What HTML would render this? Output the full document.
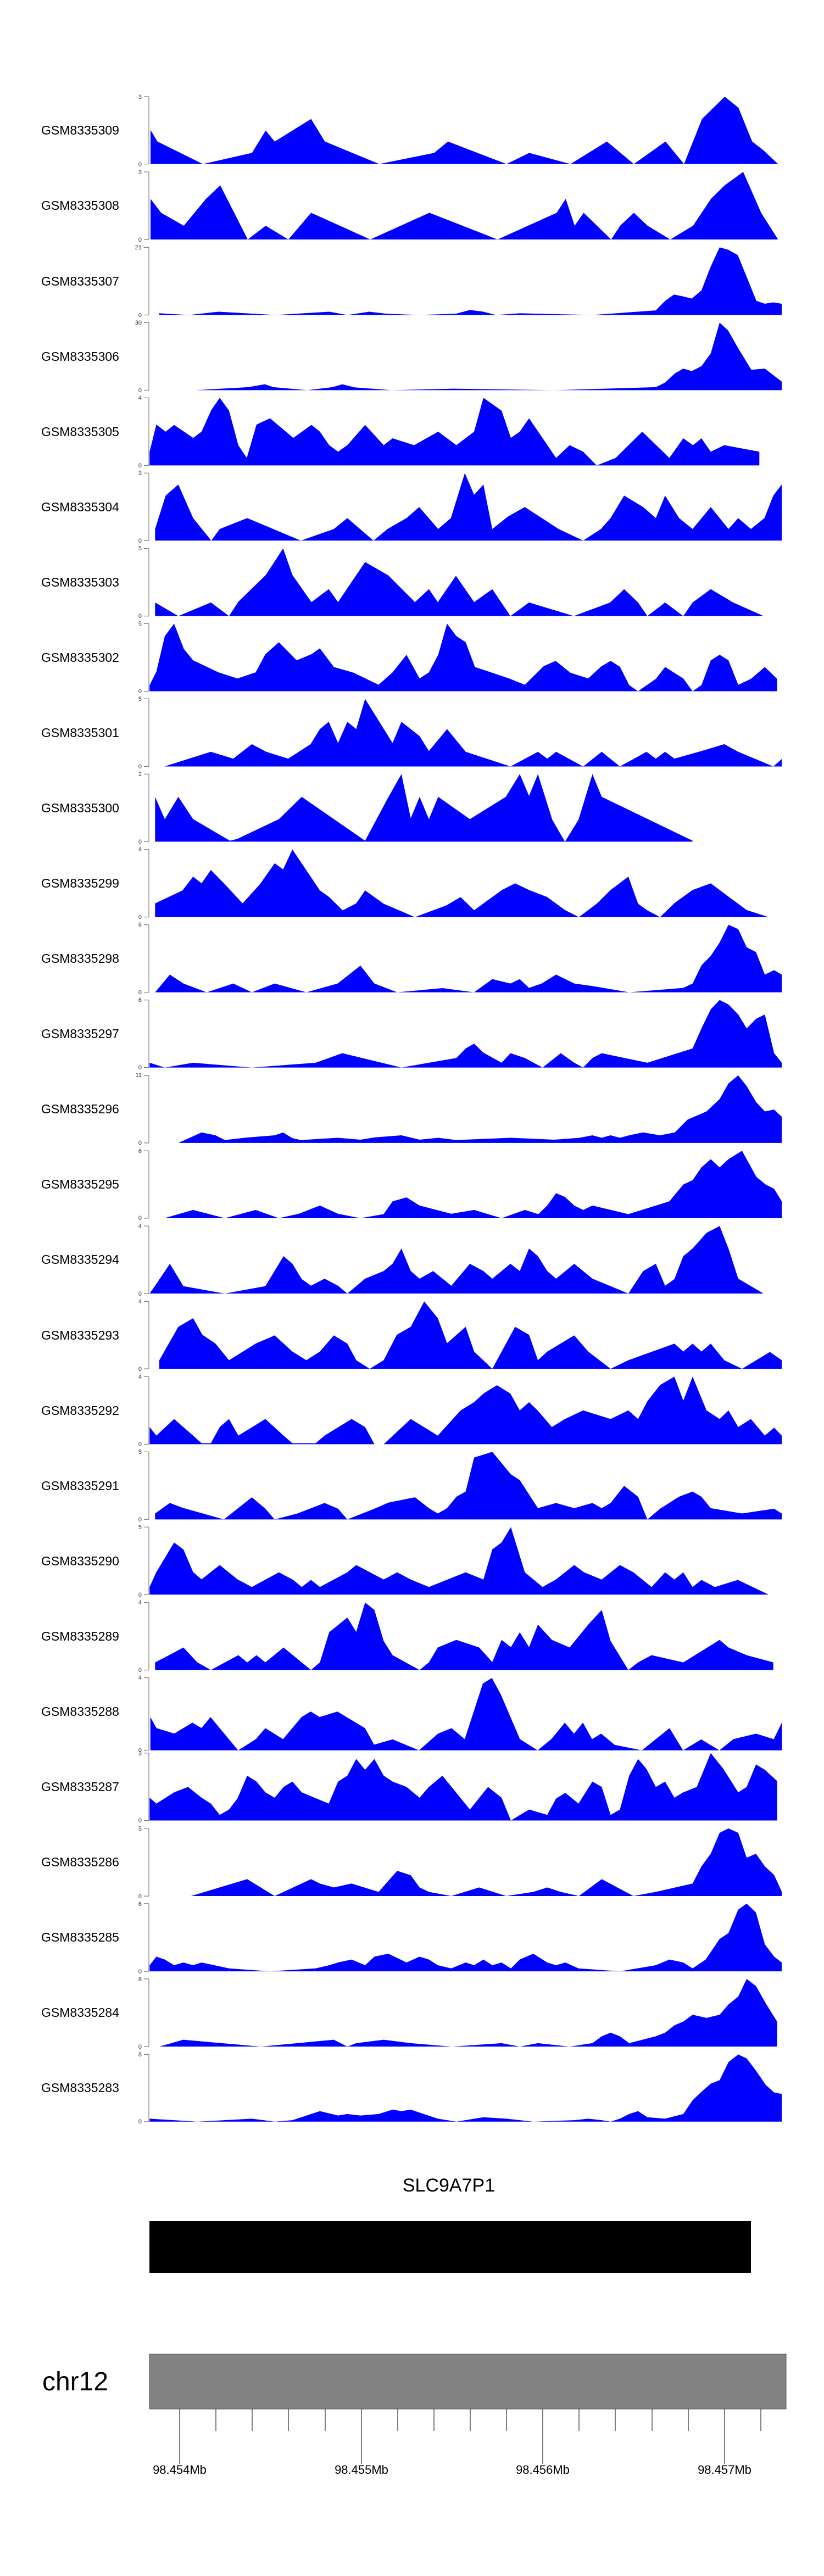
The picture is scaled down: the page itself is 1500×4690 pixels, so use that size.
<!DOCTYPE html>
<html><head><meta charset="utf-8"><style>
html,body{margin:0;padding:0;background:#fff;}
svg{display:block;}
text{font-family:"Liberation Sans",sans-serif;}
</style></head><body>
<svg width="1500" height="4690" viewBox="0 0 1500 4690" xmlns="http://www.w3.org/2000/svg">
<rect width="1500" height="4690" fill="#fff"/>
<g fill="#0000ff" stroke="none">
<g transform="translate(0,150) scale(0.96154,0.33333)">
<polygon points="285,446 285,260 298,323 384,446 477,385 503,263 520,323 589,200 615,323 718,446 822,385 848,323 959,446 1002,385 1080,446 1149,323 1200,446 1260,323 1295,446 1329,200 1372,78 1398,138 1424,323 1445,370 1473,446"/>
<polygon points="285,858 285,636 305,712 348,783 390,636 417,562 469,858 503,783 546,858 589,712 701,858 813,712 942,858 1054,712 1071,636 1088,783 1105,712 1157,858 1174,783 1200,712 1226,783 1269,858 1312,783 1346,636 1372,562 1407,489 1441,712 1473,858"/>
</g>
<g transform="translate(240,440) scale(0.76923,0.34757)">
<polygon points="65,384 65,375 135,384 205,367 340,384 467,367 510,384 562,367 600,377 680,384 768,377 800,358 830,366 862,384 918,375 1090,384 1240,360 1262,310 1283,277 1305,287 1325,298 1348,255 1370,130 1391,30 1411,42 1434,70 1478,310 1498,325 1518,318 1538,325 1538,384"/>
<polygon points="150,778 275,762 315,747 335,762 415,778 475,762 498,747 527,763 615,778 760,770 1000,778 1240,762 1262,738 1285,690 1305,665 1325,678 1348,652 1370,585 1391,424 1411,465 1434,555 1466,671 1498,665 1538,733 1538,778"/>
<polygon points="42,1172 42,1100 58,958 80,995 100,960 145,1028 165,995 188,882 208,818 230,885 252,1066 272,1133 295,958 327,925 382,1028 425,960 445,995 467,1066 488,1100 510,1066 552,960 596,1066 617,1030 668,1066 725,995 768,1066 810,995 832,818 875,885 897,1028 918,995 940,925 1004,1133 1036,1066 1068,1100 1100,1172 1145,1133 1208,995 1272,1133 1305,1030 1328,1066 1348,1030 1370,1100 1402,1066 1485,1100 1485,1172"/>
<polygon points="55,1566 55,1505 80,1330 110,1272 145,1448 188,1566 208,1505 273,1448 400,1566 478,1505 510,1448 572,1566 605,1505 650,1448 680,1390 725,1505 755,1448 788,1212 810,1326 832,1272 853,1505 890,1440 930,1390 1010,1505 1068,1566 1110,1505 1133,1448 1165,1330 1210,1390 1240,1448 1262,1330 1295,1448 1327,1505 1370,1390 1412,1505 1435,1448 1465,1505 1497,1448 1518,1330 1538,1272 1538,1566"/>
</g>
<g transform="translate(240,985) scale(0.76923,0.34757)">
<polygon points="55,393 55,322 110,393 187,322 230,393 252,318 317,178 358,39 380,178 425,320 466,252 488,320 552,110 607,180 670,320 703,252 724,320 767,182 810,320 853,252 896,393 940,322 1046,393 1132,322 1165,252 1198,322 1220,393 1262,322 1305,393 1327,322 1370,252 1423,322 1495,393"/>
<polygon points="42,787 42,755 58,685 78,498 100,433 123,565 145,625 205,688 250,720 293,688 316,593 348,530 390,625 425,593 445,562 478,660 525,690 584,753 617,688 650,596 681,720 703,688 725,596 746,433 768,498 790,530 812,660 893,720 930,753 975,655 1003,628 1038,690 1080,720 1110,658 1133,628 1155,658 1177,755 1198,787 1240,722 1262,660 1305,720 1327,787 1348,755 1370,625 1391,596 1412,625 1435,753 1465,722 1498,660 1527,722 1527,787"/>
<polygon points="77,1181 187,1104 240,1140 284,1064 318,1104 370,1140 423,1064 445,985 466,947 488,1058 510,947 531,985 552,827 617,1058 638,947 681,1022 703,1100 746,985 790,1104 896,1181 961,1104 983,1140 1004,1104 1068,1181 1112,1104 1155,1181 1218,1104 1240,1140 1262,1104 1284,1140 1348,1100 1402,1064 1435,1104 1518,1181 1538,1142 1538,1181"/>
<polygon points="55,1575 55,1340 78,1457 110,1340 145,1457 232,1570 250,1560 348,1457 402,1340 552,1570 605,1350 638,1221 660,1452 681,1340 703,1457 725,1340 800,1457 885,1340 918,1221 940,1335 961,1221 995,1460 1025,1575 1057,1460 1090,1221 1112,1340 1327,1570 1327,1575"/>
</g>
<g transform="translate(240,1530) scale(0.76923,0.34757)">
<polygon points="55,402 55,330 120,262 145,190 165,225 187,155 218,225 262,330 303,230 338,120 358,152 380,48 445,262 467,297 499,367 531,330 552,262 596,332 670,402 745,340 778,297 810,366 876,260 907,225 940,260 983,297 1025,365 1058,402 1100,332 1133,260 1175,190 1198,332 1220,367 1250,402 1285,327 1327,260 1370,225 1412,295 1455,365 1507,402"/>
<polygon points="55,796 90,703 122,750 177,796 240,750 284,796 338,750 413,796 487,750 541,656 574,750 628,796 735,774 810,796 853,727 896,750 918,727 940,773 970,750 1004,703 1047,750 1090,763 1177,796 1305,773 1327,750 1348,655 1370,605 1391,535 1412,442 1435,465 1455,560 1477,585 1498,703 1520,680 1538,703 1538,796"/>
<polygon points="42,1190 42,1165 78,1190 145,1165 284,1190 435,1165 498,1115 638,1190 768,1140 790,1090 810,1065 832,1112 875,1165 896,1115 930,1140 972,1190 1015,1115 1047,1165 1068,1190 1090,1140 1112,1115 1220,1165 1327,1090 1348,985 1370,885 1391,836 1412,860 1435,912 1455,985 1477,935 1498,912 1520,1115 1538,1165 1538,1190"/>
<polygon points="42,1585 110,1585 165,1530 198,1545 220,1570 275,1556 338,1545 358,1530 380,1560 400,1570 487,1558 541,1568 574,1556 638,1545 681,1568 725,1558 768,1570 896,1558 1000,1568 1060,1558 1090,1545 1112,1558 1133,1545 1155,1558 1177,1545 1210,1530 1250,1545 1285,1530 1315,1463 1360,1420 1391,1355 1412,1273 1435,1231 1455,1287 1477,1370 1498,1420 1520,1410 1538,1448 1538,1585"/>
</g>
<g transform="translate(240,2075) scale(0.76923,0.34757)">
<polygon points="77,411 145,368 220,411 293,368 348,411 395,388 445,345 488,388 541,411 596,390 617,323 650,302 681,345 756,388 810,368 875,411 930,368 962,390 983,345 1004,280 1025,300 1047,345 1068,368 1090,345 1175,390 1272,323 1305,235 1327,212 1348,145 1370,102 1391,145 1412,102 1444,58 1478,195 1500,235 1520,257 1538,323 1538,411"/>
<polygon points="42,806 55,765 90,650 122,767 220,806 316,767 359,610 380,650 402,730 424,765 456,728 488,765 510,806 552,728 596,688 617,650 638,570 660,688 681,728 713,688 756,765 800,650 832,688 853,728 896,650 918,688 940,570 961,610 983,688 1004,728 1047,650 1090,728 1175,806 1210,688 1240,650 1262,765 1284,730 1305,610 1327,570 1360,488 1391,452 1412,570 1435,728 1495,806"/>
<polygon points="65,1200 65,1155 110,980 145,935 167,1022 198,1068 230,1155 293,1068 338,1025 380,1110 413,1155 445,1110 478,1025 510,1068 531,1155 563,1200 596,1155 627,1022 660,980 692,847 724,935 746,1066 790,980 810,1110 853,1200 907,980 940,1022 961,1155 983,1110 1047,1025 1080,1110 1133,1200 1175,1155 1284,1068 1305,1110 1327,1068 1348,1110 1370,1068 1402,1155 1444,1200 1510,1112 1538,1155 1538,1200"/>
<polygon points="42,1595 42,1505 58,1550 100,1463 145,1550 165,1590 187,1590 208,1505 230,1463 252,1550 316,1463 359,1550 380,1590 435,1590 456,1550 520,1463 552,1505 574,1595 596,1595 660,1463 724,1550 778,1418 810,1375 832,1330 864,1286 896,1330 918,1418 940,1375 961,1420 994,1505 1025,1463 1068,1418 1133,1463 1175,1418 1198,1463 1220,1370 1250,1285 1284,1241 1305,1367 1327,1241 1360,1418 1391,1463 1412,1418 1435,1505 1465,1463 1498,1550 1520,1508 1538,1550 1538,1595"/>
</g>
<g transform="translate(240,2620) scale(0.76923,0.34757)">
<polygon points="55,421 55,390 90,335 120,360 218,421 284,305 316,365 338,421 392,390 456,335 488,365 510,421 574,365 607,333 670,305 703,362 724,390 746,362 768,302 790,275 810,97 853,67 897,185 918,215 961,362 1004,335 1047,362 1090,335 1112,362 1133,335 1165,245 1198,302 1220,421 1250,365 1295,302 1327,275 1348,302 1370,362 1444,390 1520,365 1538,390 1538,421"/>
<polygon points="42,815 42,775 58,697 100,542 122,578 145,697 165,735 208,660 250,735 284,775 348,698 382,738 402,775 424,738 445,775 510,698 531,660 596,736 628,698 660,736 703,775 790,698 832,736 853,578 875,542 897,461 930,698 972,775 1004,735 1047,660 1070,698 1112,736 1155,660 1187,698 1230,775 1262,698 1284,736 1305,698 1327,775 1348,738 1380,775 1434,738 1507,815"/>
<polygon points="55,1210 55,1170 90,1130 122,1092 155,1170 187,1210 252,1132 273,1170 295,1132 316,1170 359,1092 424,1210 445,1170 467,1012 510,935 531,1010 552,856 574,895 596,1058 617,1132 681,1210 703,1170 724,1092 768,1052 822,1092 853,1168 875,1052 897,1090 918,1012 940,1090 961,972 994,1052 1036,1092 1080,972 1112,895 1133,1058 1175,1210 1198,1170 1230,1132 1305,1170 1391,1052 1412,1092 1455,1132 1518,1170 1518,1210"/>
</g>
<g transform="translate(270,3050) scale(0.75,0.35714)">
<polygon points="5,383 5,213 20,270 63,297 107,242 129,269 151,213 218,383 261,326 284,270 327,326 372,213 394,185 416,213 459,185 526,270 548,354 593,327 657,383 703,298 736,270 768,326 812,42 834,14 856,100 902,326 945,383 978,326 1011,242 1033,298 1055,242 1077,326 1099,298 1132,355 1198,383 1265,270 1298,383 1342,327 1386,383 1420,326 1475,298 1518,326 1538,240 1538,383"/>
</g>
<g transform="translate(240,3165) scale(0.76923,0.44643)">
<polygon points="42,335 42,242 58,266 100,220 133,198 165,242 187,266 208,312 230,290 250,245 273,152 295,176 316,220 338,242 359,198 380,176 402,220 466,266 488,176 510,152 531,84 552,128 574,84 596,152 617,176 650,198 681,242 703,198 735,152 800,290 843,198 875,242 897,335 940,290 983,312 1004,245 1026,222 1057,266 1090,176 1112,198 1133,312 1155,290 1177,152 1198,84 1218,125 1240,198 1262,176 1284,242 1305,220 1337,198 1370,60 1400,125 1435,220 1455,198 1477,106 1498,128 1527,174 1527,335"/>
<polygon points="140,643 273,574 338,643 424,574 445,592 478,608 520,592 584,626 628,540 660,558 681,608 703,626 756,643 822,608 886,643 950,626 983,608 1015,626 1058,643 1112,574 1187,643 1240,626 1327,592 1348,522 1370,470 1391,385 1412,367 1435,385 1455,487 1477,470 1498,522 1520,557 1538,625 1538,643"/>
<polygon points="42,950 42,925 58,890 78,902 100,925 122,914 145,925 165,914 230,938 327,950 435,938 467,925 488,914 520,902 552,925 574,890 607,878 650,914 681,890 703,902 724,925 756,938 790,914 810,925 832,902 853,925 875,914 897,938 918,902 950,878 983,914 1004,925 1026,914 1057,938 1155,950 1240,925 1272,902 1305,914 1327,938 1358,902 1391,818 1412,794 1435,698 1455,674 1477,710 1498,840 1520,890 1538,914 1538,950"/>
<polygon points="65,1257 122,1229 305,1257 478,1229 510,1257 531,1243 596,1229 660,1243 758,1257 875,1243 918,1257 961,1243 1036,1257 1090,1243 1112,1215 1133,1200 1155,1215 1177,1243 1240,1215 1262,1200 1284,1170 1305,1155 1327,1127 1360,1140 1391,1127 1412,1085 1435,1053 1455,981 1477,1010 1500,1080 1527,1155 1527,1257"/>
<polygon points="42,1563 42,1551 100,1557 155,1563 284,1551 338,1563 380,1557 445,1520 488,1538 510,1532 541,1538 584,1532 617,1514 638,1520 660,1514 724,1551 768,1563 832,1545 886,1551 950,1563 1047,1557 1080,1551 1112,1557 1133,1563 1155,1551 1177,1532 1198,1520 1220,1545 1262,1551 1305,1532 1327,1476 1350,1438 1370,1408 1391,1394 1412,1320 1435,1289 1455,1305 1477,1355 1500,1413 1520,1444 1538,1450 1538,1563"/>
</g>
</g>
<g id="axes" stroke="#7f7f7f" stroke-width="1.2" fill="none">
<path d="M271,176V298.7M262,176H271M262,298.7H271"/>
<path d="M271,313V436M262,313H271M262,436H271"/>
<path d="M271,450.4V573.5M262,450.4H271M262,573.5H271"/>
<path d="M271,587.4V710.4M262,587.4H271M262,710.4H271"/>
<path d="M271,724.3V847.4M262,724.3H271M262,847.4H271"/>
<path d="M271,861.3V984.3M262,861.3H271M262,984.3H271"/>
<path d="M271,998.6V1121.6M262,998.6H271M262,1121.6H271"/>
<path d="M271,1135.5V1258.5M262,1135.5H271M262,1258.5H271"/>
<path d="M271,1272.4V1395.5M262,1272.4H271M262,1395.5H271"/>
<path d="M271,1409.4V1532.5M262,1409.4H271M262,1532.5H271"/>
<path d="M271,1546.7V1669.7M262,1546.7H271M262,1669.7H271"/>
<path d="M271,1683.6V1806.7M262,1683.6H271M262,1806.7H271"/>
<path d="M271,1820.6V1943.6M262,1820.6H271M262,1943.6H271"/>
<path d="M271,1957.9V2080.9M262,1957.9H271M262,2080.9H271"/>
<path d="M271,2095.2V2217.9M262,2095.2H271M262,2217.9H271"/>
<path d="M271,2232.1V2355.1M262,2232.1H271M262,2355.1H271"/>
<path d="M271,2369.4V2492.1M262,2369.4H271M262,2492.1H271"/>
<path d="M271,2506.3V2629.4M262,2506.3H271M262,2629.4H271"/>
<path d="M271,2643.3V2766.3M262,2643.3H271M262,2766.3H271"/>
<path d="M271,2780.2V2903.3M262,2780.2H271M262,2903.3H271"/>
<path d="M271,2917.5V3040.6M262,2917.5H271M262,3040.6H271"/>
<path d="M271,3054.5V3186.5M262,3054.5H271M262,3186.5H271"/>
<path d="M271,3191.8V3314.6M262,3191.8H271M262,3314.6H271"/>
<path d="M271,3328.8V3452.1M262,3328.8H271M262,3452.1H271"/>
<path d="M271,3465.9V3589.1M262,3465.9H271M262,3589.1H271"/>
<path d="M271,3602.9V3726.1M262,3602.9H271M262,3726.1H271"/>
<path d="M271,3740.4V3862.8M262,3740.4H271M262,3862.8H271"/>
</g>
<g font-size="11" fill="#333" text-anchor="end">
<text x="258" y="180">3</text><text x="258" y="303">0</text>
<text x="258" y="317">3</text><text x="258" y="440">0</text>
<text x="258" y="454">21</text><text x="258" y="577">0</text>
<text x="258" y="591">30</text><text x="258" y="714">0</text>
<text x="258" y="728">4</text><text x="258" y="851">0</text>
<text x="258" y="865">3</text><text x="258" y="988">0</text>
<text x="258" y="1002">5</text><text x="258" y="1125">0</text>
<text x="258" y="1139">5</text><text x="258" y="1262">0</text>
<text x="258" y="1276">5</text><text x="258" y="1399">0</text>
<text x="258" y="1413">2</text><text x="258" y="1536">0</text>
<text x="258" y="1550">4</text><text x="258" y="1673">0</text>
<text x="258" y="1687">6</text><text x="258" y="1810">0</text>
<text x="258" y="1824">6</text><text x="258" y="1947">0</text>
<text x="258" y="1961">11</text><text x="258" y="2084">0</text>
<text x="258" y="2099">6</text><text x="258" y="2221">0</text>
<text x="258" y="2236">4</text><text x="258" y="2359">0</text>
<text x="258" y="2373">4</text><text x="258" y="2496">0</text>
<text x="258" y="2510">4</text><text x="258" y="2633">0</text>
<text x="258" y="2647">5</text><text x="258" y="2770">0</text>
<text x="258" y="2784">5</text><text x="258" y="2907">0</text>
<text x="258" y="2921">4</text><text x="258" y="3044">0</text>
<text x="258" y="3058">4</text><text x="258" y="3190">0</text>
<text x="258" y="3196">3</text><text x="258" y="3318">0</text>
<text x="258" y="3333">5</text><text x="258" y="3456">0</text>
<text x="258" y="3470">6</text><text x="258" y="3593">0</text>
<text x="258" y="3607">8</text><text x="258" y="3730">0</text>
<text x="258" y="3744">8</text><text x="258" y="3866">0</text>
</g>
<g font-size="23" fill="#000" text-anchor="middle">
<text x="146" y="245">GSM8335309</text>
<text x="146" y="382">GSM8335308</text>
<text x="146" y="520">GSM8335307</text>
<text x="146" y="657">GSM8335306</text>
<text x="146" y="794">GSM8335305</text>
<text x="146" y="931">GSM8335304</text>
<text x="146" y="1068">GSM8335303</text>
<text x="146" y="1205">GSM8335302</text>
<text x="146" y="1342">GSM8335301</text>
<text x="146" y="1479">GSM8335300</text>
<text x="146" y="1616">GSM8335299</text>
<text x="146" y="1753">GSM8335298</text>
<text x="146" y="1890">GSM8335297</text>
<text x="146" y="2027">GSM8335296</text>
<text x="146" y="2164">GSM8335295</text>
<text x="146" y="2301">GSM8335294</text>
<text x="146" y="2439">GSM8335293</text>
<text x="146" y="2576">GSM8335292</text>
<text x="146" y="2713">GSM8335291</text>
<text x="146" y="2850">GSM8335290</text>
<text x="146" y="2987">GSM8335289</text>
<text x="146" y="3124">GSM8335288</text>
<text x="146" y="3261">GSM8335287</text>
<text x="146" y="3398">GSM8335286</text>
<text x="146" y="3535">GSM8335285</text>
<text x="146" y="3672">GSM8335284</text>
<text x="146" y="3809">GSM8335283</text>
</g>
<text x="817" y="3990" font-size="34" text-anchor="middle" fill="#000">SLC9A7P1</text>
<rect x="272" y="4044" width="1095" height="94" fill="#000"/>
<rect x="272" y="4286" width="1159" height="100" fill="#828282" stroke="#555" stroke-width="1"/>
<text x="137" y="4352" font-size="48" text-anchor="middle" fill="#000">chr12</text>
<g stroke="#000" stroke-width="1">
<path d="M327,4386V4486M658,4386V4486M988,4386V4486M1319,4386V4486"/>
<path d="M393,4386V4426M459,4386V4426M525,4386V4426M592,4386V4426M724,4386V4426M790,4386V4426M856,4386V4426M922,4386V4426M1054,4386V4426M1120,4386V4426M1187,4386V4426M1253,4386V4426M1385,4386V4426"/>
</g>
<g font-size="22" text-anchor="middle" fill="#000">
<text x="327" y="4504">98.454Mb</text>
<text x="658" y="4504">98.455Mb</text>
<text x="988" y="4504">98.456Mb</text>
<text x="1319" y="4504">98.457Mb</text>
</g>
</svg>
</body></html>
